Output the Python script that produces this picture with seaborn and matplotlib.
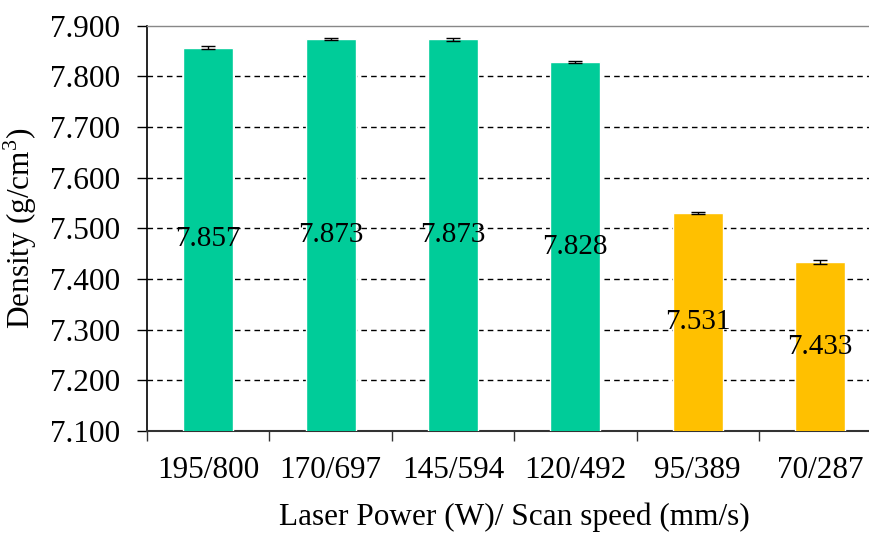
import matplotlib
matplotlib.use("Agg")
import matplotlib.pyplot as plt
import seaborn as sns
import pandas as pd

# Density of printed parts for each laser power / scan speed setting
settings = ["195/800", "170/697", "145/594", "120/492", "95/389", "70/287"]
density = [7.857, 7.873, 7.873, 7.828, 7.531, 7.433]
density_err = [0.002, 0.002, 0.003, 0.002, 0.002, 0.004]
group = ["high", "high", "high", "high", "low", "low"]

palette = {"high": "#00CC99", "low": "#FFC000"}

sns.set_theme(style="white")
plt.rcParams["font.family"] = ["Liberation Serif", "DejaVu Serif"]
plt.rcParams["mathtext.fontset"] = "custom"
plt.rcParams["mathtext.rm"] = "Liberation Serif"
plt.rcParams["text.color"] = "black"
plt.rcParams["axes.labelcolor"] = "black"
plt.rcParams["xtick.color"] = "black"
plt.rcParams["ytick.color"] = "black"

FS = 22.5

df = pd.DataFrame({"setting": settings, "density": density, "group": group})

fig = plt.figure(figsize=(8.7, 5.36), dpi=100)
ax = fig.add_axes([0.169, 0.196, 0.844, 0.756])

sns.barplot(data=df, x="setting", y="density", hue="group", palette=palette,
            dodge=False, width=0.41, errorbar=None, legend=False, ax=ax,
            saturation=1.0, zorder=3)

ax.errorbar(range(len(settings)), density, yerr=density_err, fmt="none",
            ecolor="black", elinewidth=1, capsize=5, capthick=1, zorder=4)

ybase = 7.1
for i, v in enumerate(density):
    ax.text(i, (ybase + v) / 2, f"{v:.3f}", ha="center", va="center",
            fontsize=21, color="black", zorder=5)

ax.set_ylim(7.1, 7.9)
ax.set_xlim(-0.5, 5.5)
ax.set_yticks([7.1 + 0.1 * k for k in range(9)])
ax.set_yticklabels([f"{7.1 + 0.1 * k:.3f}" for k in range(9)], fontsize=FS)

ax.set_xticks(range(len(settings)))
ax.set_xticklabels(settings, fontsize=FS)
ax.set_xticks([k - 0.5 for k in range(len(settings) + 1)], minor=True)
ax.tick_params(axis="x", which="major", length=0, pad=18)
ax.tick_params(axis="x", which="minor", length=7.5, width=1, color="#333333",
               direction="out", bottom=True)
ax.tick_params(axis="y", length=7.5, width=1, color="black", direction="out",
               left=True, pad=12)

for y in [7.2, 7.3, 7.4, 7.5, 7.6, 7.7, 7.8]:
    ax.axhline(y, color="black", linestyle=(0, (4, 3)), linewidth=1, zorder=1)

ax.spines["left"].set_color("black")
ax.spines["left"].set_linewidth(1.2)
ax.spines["bottom"].set_color("#333333")
ax.spines["bottom"].set_linewidth(1.5)
ax.spines["top"].set_color("#888888")
ax.spines["top"].set_linewidth(1)
ax.spines["right"].set_visible(False)

ax.set_xlabel("Laser Power (W)/ Scan speed (mm/s)", fontsize=FS, labelpad=13)
ax.set_ylabel("Density (g/cm$^{3}$)", fontsize=FS, labelpad=8)

fig.savefig("out.png", dpi=100)
